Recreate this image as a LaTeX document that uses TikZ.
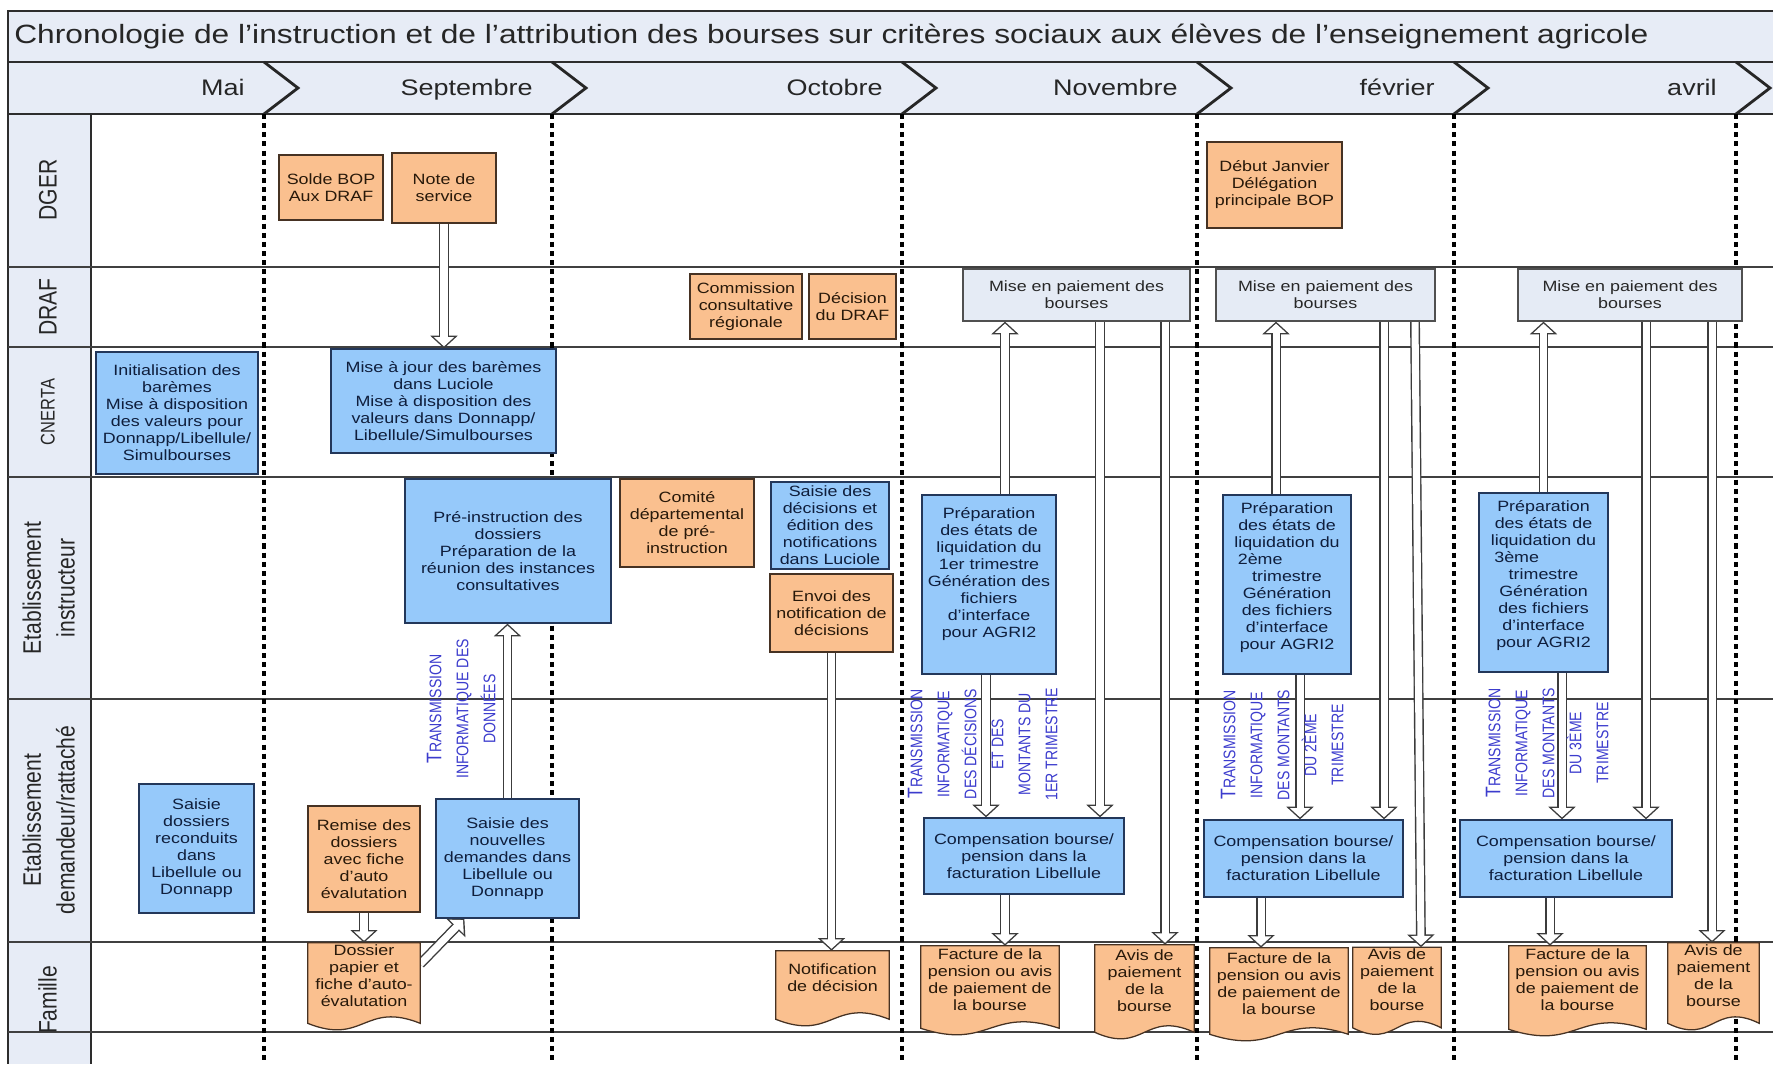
\documentclass[tikz,border=0pt]{standalone}
\usepackage{fontspec}
\setmainfont{Liberation Sans}[FakeStretch=1.2]
\newfontfamily\rotfont{Liberation Sans}
\usepackage{graphicx}
\usetikzlibrary{arrows.meta,calc}

\definecolor{bandfill}{RGB}{231,236,246}
\definecolor{frameline}{RGB}{45,45,45}
\definecolor{orangefill}{RGB}{250,192,143}
\definecolor{orangeline}{RGB}{70,50,35}
\definecolor{orangetext}{RGB}{40,25,10}
\definecolor{bluefill}{RGB}{150,201,250}
\definecolor{blueline}{RGB}{35,55,90}
\definecolor{bluetext}{RGB}{15,30,60}
\definecolor{grayfill}{RGB}{229,235,245}
\definecolor{grayline}{RGB}{80,80,80}
\definecolor{graytext}{RGB}{40,40,40}
\definecolor{transblue}{RGB}{60,60,205}
\definecolor{arrowline}{RGB}{60,60,60}

\newlength{\px}
\setlength{\px}{0.25mm}

\newcommand\boxfont{\fontsize{10.6}{12.1}\selectfont}
\newcommand\lanefont{\rotfont\fontsize{15}{20}\selectfont}
\newcommand\monthfont{\fontsize{16}{18}\selectfont}
\newcommand\vlab[1]{\scalebox{1}[1.2]{\begin{tabular}{@{}c@{}}#1\end{tabular}}}
\newcommand\bigT{{\fontsize{12.5}{16}\selectfont T}}

\pgfdeclarelayer{back}
\pgfdeclarelayer{arrows}
\pgfdeclarelayer{docs}
\pgfsetlayers{back,arrows,docs,main}

\newcommand\docshape[1]{%
  \filldraw[docline] (#1.north west) -- (#1.north east) -- (#1.south east)
    .. controls ($(#1.south west)!0.5!(#1.south east)+(0,16pt)$)
    and ($(#1.south west)!0.5!(#1.south east)+(0,-16pt)$) .. (#1.south west) -- cycle;}

\begin{document}
\begin{tikzpicture}
	[x=0.25mm, y=-0.25mm,
	 box/.style={rectangle, draw, line width=0.9pt, align=center, inner sep=1pt, font=\boxfont},
	 obox/.style={box, fill=orangefill, draw=orangeline, text=orangetext},
	 bbox/.style={box, fill=bluefill, draw=blueline, text=bluetext},
	 gbox/.style={box, fill=grayfill, draw=grayline, text=graytext},
	 docbox/.style={rectangle, align=center, inner sep=1pt, font=\boxfont, text=orangetext, text depth=11pt},
	 docline/.style={fill=orangefill, draw=orangeline, line width=0.9pt},
	 lane/.style={rotate=90, inner sep=0pt, font=\lanefont, text=black!85},
	 month/.style={anchor=base east, inner sep=0pt, font=\monthfont, text=black!85},
	 trans/.style={rotate=90, inner sep=0pt, text=transblue, font=\rotfont\fontsize{10}{16}\selectfont},
	 frame/.style={draw=frameline, line width=1.2pt},
	 laneline/.style={draw=black!75, line width=0.9pt},
	 chevron/.style={draw=black!85, line width=2pt},
	 divider/.style={draw=black, line width=2.2pt, dash pattern=on 3.6pt off 2.9pt},
	 hollow/.style={draw=arrowline, line width=7pt, -{Triangle[length=9pt,width=19pt]},
	   postaction={draw=white, line width=5pt, shorten >=1.4pt, -{Triangle[length=6.6pt,width=14pt]}}}]

	\useasboundingbox (0,0) rectangle (1773,1064);

	\begin{pgfonlayer}{back}
		\fill[bandfill] (8,11) rectangle (1773,114);
		\fill[bandfill] (8,114) rectangle (91,1064);
		\draw[frame] (1773,11) -- (8,11) -- (8,1064);
		\draw[frame] (8,62) -- (1773,62);
		\draw[frame] (8,114) -- (1773,114);
		\draw[frame] (91,114) -- (91,1064);
		\foreach \y in {267,347,477,699,942,1032}
			\draw[laneline] (8,\y) -- (1773,\y);
		\foreach \x in {264,552,902,1197,1454,1736} {
			\draw[chevron] (\x,62) -- ++(34,26) -- (\x,114);
			\draw[divider] (\x,114) -- (\x,1064);
		}
	\end{pgfonlayer}

	\node[anchor=base west, inner sep=0pt, font=\fontsize{18.8}{20}\selectfont, text=black!85] (title) at (14,43)
		{Chronologie de l’instruction et de l’attribution des bourses sur critères sociaux aux élèves de l’enseignement agricole};
	\foreach \x/\m/\n in {264/Mai/mai, 552/Septembre/sept, 902/Octobre/oct, 1197/Novembre/nov, 1454/février/fev, 1736/avril/avr}
		\node[month] (\n) at (\x-19,95) {\m};

	\node[lane] (dger) at (50,190) {\vlab{DGER}};
	\node[lane] (draf) at (50,307) {\vlab{DRAF}};
	\node[lane, font=\rotfont\fontsize{11.7}{14}\selectfont] (cnerta) at (50,412) {\vlab{CNERTA}};
	\node[lane] (etabi) at (51,588) {\vlab{Etablissement\\instructeur}};
	\node[lane] (etabd) at (51,820) {\vlab{Etablissement\\demandeur/rattaché}};
	\node[lane] (famille) at (50,1000) {\vlab{Famille}};

	\node[obox, minimum width=104\px, minimum height=65\px] (solde) at (331,187.5) {Solde BOP\\Aux DRAF};
	\node[obox, minimum width=104\px, minimum height=70\px] (note) at (444,188) {Note de\\service};
	\node[obox, minimum width=135\px, minimum height=86\px] (debut) at (1274.5,185) {Début Janvier\\Délégation\\principale BOP};

	\node[obox, minimum width=112\px, minimum height=65\px] (commission) at (746,306.5) {Commission\\consultative\\régionale};
	\node[obox, minimum width=87\px, minimum height=65\px] (decision) at (852.5,306.5) {Décision\\du DRAF};
	\node[gbox, minimum width=227\px, minimum height=52\px] (paie1) at (1076.5,295) {Mise en paiement des\\bourses};
	\node[gbox, minimum width=219\px, minimum height=52\px] (paie2) at (1325.5,295) {Mise en paiement des\\bourses};
	\node[gbox, minimum width=224\px, minimum height=52\px] (paie3) at (1630,295) {Mise en paiement des\\bourses};

	\node[bbox, minimum width=162\px, minimum height=122\px] (init) at (177,413)
		{Initialisation des\\barèmes\\Mise à disposition\\des valeurs pour\\Donnapp/Libellule/\\Simulbourses};
	\node[bbox, minimum width=225\px, minimum height=104\px] (majour) at (443.5,401)
		{Mise à jour des barèmes\\dans Luciole\\Mise à disposition des\\valeurs dans Donnapp/\\Libellule/Simulbourses};

	\node[bbox, minimum width=206\px, minimum height=144\px] (preinstr) at (508,551)
		{Pré-instruction des\\dossiers\\Préparation de la\\réunion des instances\\consultatives};
	\node[obox, minimum width=134\px, minimum height=88\px] (comite) at (687,523) {Comité\\départemental\\de pré-\\instruction};
	\node[bbox, minimum width=118\px, minimum height=87\px] (saisiedec) at (830,525.5)
		{Saisie des\\décisions et\\édition des\\notifications\\dans Luciole};
	\node[obox, minimum width=123\px, minimum height=78\px] (envoi) at (831.5,613) {Envoi des\\notification de\\décisions};
	\node[bbox, minimum width=134\px, minimum height=179\px, text depth=17pt] (prep1) at (989,584.5)
		{Préparation\\des états de\\liquidation du\\1er trimestre\\Génération des\\fichiers\\d'interface\\pour AGRI2};
	\node[bbox, minimum width=128\px, minimum height=179\px, text depth=12pt] (prep2) at (1287,584.5)
		{Préparation\\des états de\\liquidation du\\\makebox[70pt][l]{2ème}\\trimestre\\Génération\\des fichiers\\d'interface\\pour AGRI2};
	\node[bbox, minimum width=129\px, minimum height=179\px, text depth=12pt] (prep3) at (1543.5,582.5)
		{Préparation\\des états de\\liquidation du\\\makebox[70pt][l]{3ème}\\trimestre\\Génération\\des fichiers\\d'interface\\pour AGRI2};

	\node[bbox, minimum width=115\px, minimum height=129\px] (saisierec) at (196.5,848.5)
		{Saisie\\dossiers\\reconduits\\dans\\Libellule ou\\Donnapp};
	\node[obox, minimum width=112\px, minimum height=106\px] (remise) at (364,859)
		{Remise des\\dossiers\\avec fiche\\d'auto\\évalutation};
	\node[bbox, minimum width=143\px, minimum height=119\px] (saisienouv) at (507.5,858.5)
		{Saisie des\\nouvelles\\demandes dans\\Libellule ou\\Donnapp};
	\node[bbox, minimum width=200\px, minimum height=76\px] (comp1) at (1024,856)
		{Compensation bourse/\\pension dans la\\facturation Libellule};
	\node[bbox, minimum width=199\px, minimum height=77\px] (comp2) at (1303.5,858.5)
		{Compensation bourse/\\pension dans la\\facturation Libellule};
	\node[bbox, minimum width=212\px, minimum height=77\px] (comp3) at (1566,858.5)
		{Compensation bourse/\\pension dans la\\facturation Libellule};

	\node[docbox, minimum width=112\px, minimum height=78\px] (dossier) at (364,983)
		{Dossier\\papier et\\fiche d'auto-\\évalutation};
	\node[docbox, minimum width=113\px, minimum height=68\px] (notif) at (832.5,985) {Notification\\de décision};
	\node[docbox, minimum width=138\px, minimum height=82\px] (fact1) at (990,987)
		{Facture de la\\pension ou avis\\de paiement de\\la bourse};
	\node[docbox, minimum width=99\px, minimum height=87\px] (avis1) at (1144.5,988.5) {Avis de\\paiement\\de la\\bourse};
	\node[docbox, minimum width=138\px, minimum height=86\px] (fact2) at (1279,991)
		{Facture de la\\pension ou avis\\de paiement de\\la bourse};
	\node[docbox, minimum width=88\px, minimum height=79\px] (avis2) at (1397,987.5) {Avis de\\paiement\\de la\\bourse};
	\node[docbox, minimum width=137\px, minimum height=83\px] (fact3) at (1577.5,987.5)
		{Facture de la\\pension ou avis\\de paiement de\\la bourse};
	\node[docbox, minimum width=91\px, minimum height=74\px] (avis3) at (1713.5,983) {Avis de\\paiement\\de la\\bourse};

	\begin{pgfonlayer}{docs}
		\foreach \d in {dossier,notif,fact1,avis1,fact2,avis2,fact3,avis3}
			\docshape{\d};
	\end{pgfonlayer}

	\begin{pgfonlayer}{arrows}
		\draw[hollow] (note.south) -- (note.south |- majour.north);
		\draw[hollow] (saisienouv.north) -- (saisienouv.north |- preinstr.south);
		\draw[hollow] (remise.south) -- (remise.south |- dossier.north);
		\draw[hollow] ([yshift=19\px]dossier.east) -- ([xshift=29\px]saisienouv.south west);
		\draw[hollow] (envoi.south) -- (envoi.south |- notif.north);
		\draw[hollow] ([xshift=16\px]prep1.north) -- ([xshift=16\px]prep1.north |- paie1.south);
		\draw[hollow] ([xshift=-3\px]prep1.south) -- ([xshift=-3\px]prep1.south |- comp1.north);
		\draw[hollow] ([xshift=23.5\px]paie1.south) -- ([xshift=23.5\px]paie1.south |- comp1.north);
		\draw[hollow] ([xshift=88.5\px]paie1.south) -- ([xshift=88.5\px]paie1.south |- avis1.north);
		\draw[hollow] ([xshift=-19\px]comp1.south) -- ([xshift=-19\px]comp1.south |- fact1.north);
		\draw[hollow] ([xshift=-11\px]prep2.north) -- ([xshift=-11\px]prep2.north |- paie2.south);
		\draw[hollow] ([xshift=13\px]prep2.south) -- ([xshift=13\px]prep2.south |- comp2.north);
		\draw[hollow] ([xshift=58.5\px]paie2.south) -- ([xshift=58.5\px]paie2.south |- comp2.north);
		\draw[hollow] ([xshift=89.5\px]paie2.south) -- ([xshift=24\px]avis2.north);
		\draw[hollow] ([xshift=-42.5\px]comp2.south) -- ([xshift=-42.5\px]comp2.south |- fact2.north);
		\draw[hollow] (prep3.north) -- (prep3.north |- paie3.south);
		\draw[hollow] ([xshift=18.5\px]prep3.south) -- ([xshift=18.5\px]prep3.south |- comp3.north);
		\draw[hollow] ([xshift=16\px]paie3.south) -- ([xshift=16\px]paie3.south |- comp3.north);
		\draw[hollow] ([xshift=82\px]paie3.south) -- ([xshift=82\px]paie3.south |- avis3.north);
		\draw[hollow] ([xshift=-16\px]comp3.south) -- ([xshift=-16\px]comp3.south |- fact3.north);
	\end{pgfonlayer}

	\node[trans] (transdon) at (463,709) {\vlab{\bigT RANSMISSION\\INFORMATIQUE DES\\DONNÉES}};
	\node[trans] (trans1) at (984.5,744) {\vlab{\bigT RANSMISSION\\INFORMATIQUE\\DES DÉCISIONS\\ET DES\\MONTANTS DU\\1ER TRIMESTRE}};
	\node[trans] (trans2) at (1284,745) {\vlab{\bigT RANSMISSION\\INFORMATIQUE\\DES MONTANTS\\DU 2ÈME\\TRIMESTRE}};
	\node[trans] (trans3) at (1549,743) {\vlab{\bigT RANSMISSION\\INFORMATIQUE\\DES MONTANTS\\DU 3ÈME\\TRIMESTRE}};
\end{tikzpicture}
\end{document}
